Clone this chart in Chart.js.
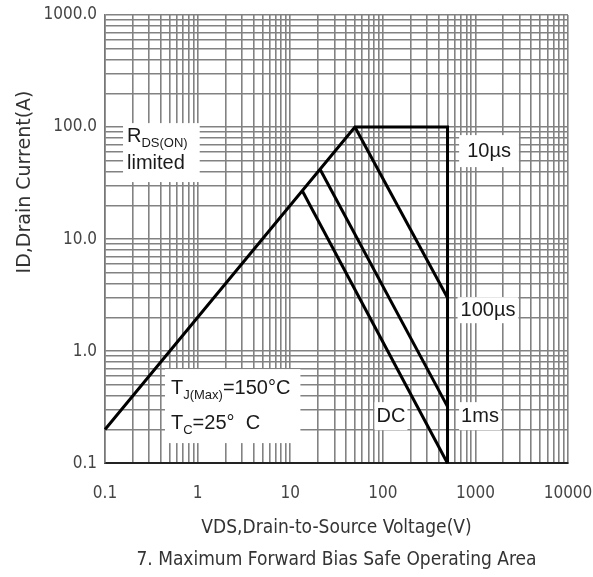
<!DOCTYPE html>
<html>
<head>
<meta charset="utf-8">
<script src="https://cdn.jsdelivr.net/npm/chart.js@4.4.0/dist/chart.umd.min.js"></script>
<style>
  body { margin: 0; background: #fff; }
  canvas { display: block; }
</style>
</head>
<body>
<canvas id="soa" width="593" height="577"></canvas>
<script>
// decade labels on both log axes
var voltTicks = [0.1, 1, 10, 100, 1000, 10000];
var currentTicks = [0.1, 1, 10, 100, 1000];

// SOA boundary: Rds(on) limit, 10us current limit, BVdss wall
var envelopeV = [0.1, 50, 500, 500];
var envelopeI = [0.2, 100, 100, 0.1];
// pulse width lines
var us100V = [50, 500];
var us100I = [100, 3];
var ms1V = [21, 500];
var ms1I = [42, 0.32];
var dcV = [13.5, 500];
var dcI = [27, 0.1];

var condensed = "'DejaVu Sans Condensed', 'Liberation Sans Narrow', 'DejaVu Sans', sans-serif";
var arial = "'Liberation Sans', Arial, sans-serif";

// text boxes on the plot (x/y in data units, pads in px: left, right, top, bottom)
var notes = [
  { x: 0.173, ys: [83, 47.7], align: 'left', pad: [4, 12, 3, 9],
    lines: [[['R'], ['DS(ON)', 1]], [['limited']]] },
  { x: 0.516, ys: [0.468, 0.228], align: 'left', pad: [6, 10, 9, 10],
    lines: [[['T'], ['J(Max)', 1], ['=150°C']], [['T'], ['C', 1], ['=25°  C']]] },
  { x: 1403, ys: [61], align: 'center', pad: [8, 8, 6, 6], lines: [[['10µs']]] },
  { x: 1368, ys: [2.32], align: 'center', pad: [3, 3, 3, 3], lines: [[['100µs']]] },
  { x: 1121, ys: [0.263], align: 'center', pad: [2, 2, 4, 4], lines: [[['1ms']]] },
  { x: 122.6, ys: [0.263], align: 'center', pad: [2, 2, 4, 4], lines: [[['DC']]] }
];

function pts(xs, ys) {
  return xs.map(function (x, i) { return { x: x, y: ys[i] }; });
}

// 1..9 in every decade between the first and last label
function decadeGrid(list) {
  var out = [];
  for (var i = 0; i < list.length - 1; i++) {
    for (var m = 1; m <= 9; m++) {
      out.push({ value: Number((list[i] * m).toPrecision(6)), major: m === 1 });
    }
  }
  out.push({ value: list[list.length - 1], major: true });
  return out;
}

function runFont(sub) {
  return sub ? '13px ' + arial : '20px ' + arial;
}

function lineWidthOf(ctx, runs) {
  var w = 0;
  runs.forEach(function (r) { ctx.font = runFont(r[1]); w += ctx.measureText(r[0]).width; });
  return w;
}

var notesPlugin = {
  id: 'notes',
  beforeDatasetsDraw: function (chart) {
    var ctx = chart.ctx, xs = chart.scales.x, ys = chart.scales.y;
    ctx.save();
    notes.forEach(function (n) {
      var px = xs.getPixelForValue(n.x);
      var widths = n.lines.map(function (l) { return lineWidthOf(ctx, l); });
      var maxW = Math.max.apply(null, widths);
      var left = n.align === 'center' ? px - maxW / 2 : px;
      var top = ys.getPixelForValue(n.ys[0]) - 10;
      var bottom = ys.getPixelForValue(n.ys[n.ys.length - 1]) + 10;
      ctx.fillStyle = '#fff';
      ctx.fillRect(left - n.pad[0], top - n.pad[2], maxW + n.pad[0] + n.pad[1], bottom - top + n.pad[2] + n.pad[3]);
      ctx.fillStyle = '#1a1a1a';
      ctx.textBaseline = 'middle';
      ctx.textAlign = 'left';
      n.lines.forEach(function (runs, i) {
        var cy = ys.getPixelForValue(n.ys[i]);
        var cx = n.align === 'center' ? px - widths[i] / 2 : px;
        runs.forEach(function (r) {
          ctx.font = runFont(r[1]);
          ctx.fillText(r[0], cx, r[1] ? cy + 7 : cy);
          cx += ctx.measureText(r[0]).width;
        });
      });
    });
    ctx.restore();
  },
  afterDraw: function (chart) {
    // rotated y axis title
    var ctx = chart.ctx, a = chart.chartArea;
    ctx.save();
    ctx.translate(a.left - 80, a.top + 167);
    ctx.rotate(-Math.PI / 2);
    ctx.font = "19px 'DejaVu Sans', sans-serif";
    ctx.fillStyle = '#333';
    ctx.textAlign = 'center';
    ctx.textBaseline = 'middle';
    ctx.fillText('ID,Drain Current(A)', 0, 0);
    ctx.restore();
  }
};

var lineStyle = { borderColor: '#000', borderWidth: 3, pointRadius: 0, showLine: true, fill: false, clip: false };

new Chart(document.getElementById('soa'), {
  type: 'scatter',
  data: {
    datasets: [
      Object.assign({ label: 'limit', data: pts(envelopeV, envelopeI) }, lineStyle),
      Object.assign({ label: '100µs', data: pts(us100V, us100I) }, lineStyle),
      Object.assign({ label: '1ms', data: pts(ms1V, ms1I) }, lineStyle),
      Object.assign({ label: 'DC', data: pts(dcV, dcI) }, lineStyle)
    ]
  },
  options: {
    responsive: false,
    animation: false,
    layout: { padding: { left: 0, right: 25, top: 15, bottom: 0 } },
    plugins: {
      legend: { display: false },
      tooltip: { enabled: false },
      title: {
        display: true,
        fullSize: false,
        position: 'bottom',
        text: '7. Maximum Forward Bias Safe Operating Area',
        color: '#333',
        font: { family: condensed, size: 19, weight: 'normal', lineHeight: 1.2 },
        padding: { top: 0, bottom: 6 }
      }
    },
    scales: {
      x: {
        type: 'logarithmic',
        min: voltTicks[0],
        max: voltTicks[voltTicks.length - 1],
        afterBuildTicks: function (s) { s.ticks = decadeGrid(voltTicks); },
        afterFit: function (s) { s.height = 85; s.paddingLeft = 0; s.paddingRight = 0; },
        grid: { color: '#828282', lineWidth: 1.6, drawTicks: false },
        border: { color: '#222', width: 2 },
        ticks: {
          autoSkip: false, maxRotation: 0, minRotation: 0, padding: 20,
          color: '#444', font: { family: condensed, size: 17 },
          callback: function (v) { return voltTicks.indexOf(v) >= 0 ? String(v) : ''; }
        },
        title: {
          display: true,
          text: 'VDS,Drain-to-Source Voltage(V)',
          color: '#333',
          font: { family: condensed, size: 19, lineHeight: 1.2 },
          padding: { top: 0, bottom: 9 }
        }
      },
      y: {
        type: 'logarithmic',
        min: currentTicks[0],
        max: currentTicks[currentTicks.length - 1],
        afterBuildTicks: function (s) { s.ticks = decadeGrid(currentTicks); },
        afterFit: function (s) { s.width = 105; s.paddingTop = 0; s.paddingBottom = 0; },
        grid: { color: '#828282', lineWidth: 1.6, drawTicks: false },
        border: { color: '#777', width: 1.5 },
        ticks: {
          autoSkip: false, padding: 8,
          color: '#444', font: { family: condensed, size: 17 },
          callback: function (v) { return currentTicks.indexOf(v) >= 0 ? v.toFixed(1) : ''; }
        }
      }
    }
  },
  plugins: [notesPlugin]
});
</script>
</body>
</html>
